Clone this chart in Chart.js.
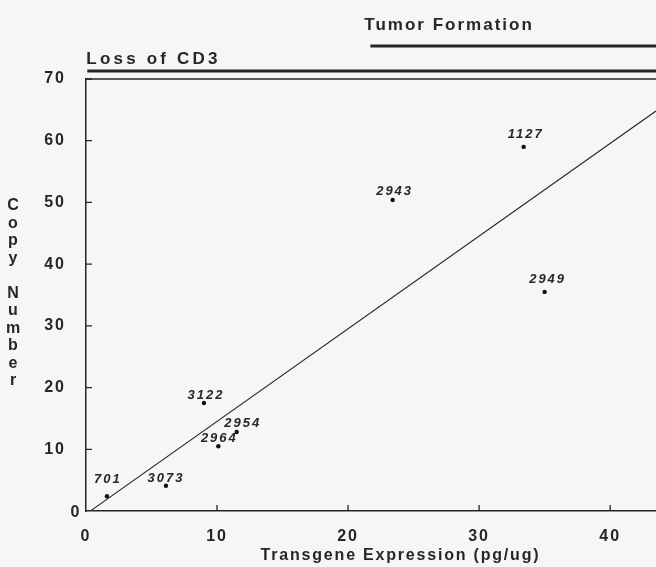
<!DOCTYPE html>
<html>
<head>
<meta charset="utf-8">
<script src="https://cdn.jsdelivr.net/npm/chart.js@4/dist/chart.umd.min.js"></script>
<style>
  html, body { margin: 0; padding: 0; background: #f6f6f6; }
  canvas { display: block; }
</style>
</head>
<body>
<canvas id="chart" width="656" height="567"></canvas>
<script>
// valores
const clones = ["701", "3073", "3122", "2964", "2954", "2943", "1127", "2949"];
const expression = [1.6, 6.1, 9.0, 10.1, 11.5, 23.4, 33.4, 35.0];
const copyNumber = [2.4, 4.1, 17.5, 10.5, 12.8, 50.4, 59.0, 35.5];

// recta de ajuste (extremos)
const fitX = [0.4, 43.5];
const fitY = [0.1, 64.8];

const xTicks = [0, 10, 20, 30, 40];
const yTicks = [0, 10, 20, 30, 40, 50, 60, 70];

// inicio de las barras superiores (en unidades del eje x)
const lossStart = 0.1;
const tumorStart = 21.7;

// pequeños desplazamientos de las etiquetas (px)
const nudge = {
  "701": [1, -13], "3073": [0, -4], "3122": [2, -4], "2964": [1, -4],
  "2954": [6, -5], "2943": [2, -5], "1127": [2, -9], "2949": [3, -9]
};

const INK = "#262626";
const FONT = '"Liberation Sans", Arial, sans-serif';

const decor = {
  id: "decor",
  beforeDraw(chart) {
    chart.ctx.letterSpacing = "2px";
  },
  afterDraw(chart) {
    const { ctx, chartArea: a, scales: { x, y } } = chart;
    const right = chart.width;
    ctx.save();
    ctx.strokeStyle = INK;
    ctx.fillStyle = INK;

    // marco superior
    ctx.lineWidth = 1.5;
    ctx.beginPath();
    ctx.moveTo(a.left, a.top);
    ctx.lineTo(right, a.top);
    ctx.stroke();

    // marcas hacia dentro
    ctx.lineWidth = 1.3;
    ctx.beginPath();
    yTicks.slice(1).forEach(v => {
      const py = y.getPixelForValue(v);
      ctx.moveTo(a.left, py);
      ctx.lineTo(a.left + 6, py);
    });
    xTicks.slice(1).forEach(v => {
      const px = x.getPixelForValue(v);
      ctx.moveTo(px, a.bottom);
      ctx.lineTo(px, a.bottom - 6);
    });
    ctx.stroke();

    // barras "Loss of CD3" / "Tumor Formation"
    ctx.lineWidth = 3;
    ctx.beginPath();
    ctx.moveTo(x.getPixelForValue(lossStart), a.top - 8);
    ctx.lineTo(right, a.top - 8);
    ctx.moveTo(x.getPixelForValue(tumorStart), a.top - 33);
    ctx.lineTo(right, a.top - 33);
    ctx.stroke();

    ctx.font = "bold 17px " + FONT;
    ctx.textAlign = "left";
    ctx.textBaseline = "alphabetic";
    ctx.letterSpacing = "3.2px";
    ctx.fillText("Loss of CD3", x.getPixelForValue(lossStart) - 1, a.top - 15);
    ctx.letterSpacing = "2px";
    ctx.fillText("Tumor Formation", x.getPixelForValue(tumorStart) - 6, a.top - 49);

    // "0" del eje y, algo desplazado como en el original
    ctx.font = "bold 16px " + FONT;
    ctx.textAlign = "center";
    ctx.textBaseline = "middle";
    ctx.letterSpacing = "0px";
    ctx.fillText("0", a.left - 11, y.getPixelForValue(0) + 2);

    // etiquetas de los puntos
    ctx.font = "italic bold 13px " + FONT;
    ctx.letterSpacing = "2px";
    ctx.textBaseline = "alphabetic";
    clones.forEach((name, i) => {
      const px = x.getPixelForValue(expression[i]);
      const py = y.getPixelForValue(copyNumber[i]);
      const [dx, dy] = nudge[name];
      ctx.fillText(name, px + dx, py + dy);
    });

    // título eje y, letra por letra
    ctx.font = "bold 16px " + FONT;
    ctx.letterSpacing = "0px";
    ctx.textBaseline = "middle";
    "Copy Number".split("").forEach((ch, i) => {
      ctx.fillText(ch, 13, 206 + i * 17.5);
    });

    // título eje x
    ctx.letterSpacing = "1.8px";
    ctx.textBaseline = "alphabetic";
    ctx.fillText("Transgene Expression (pg/ug)", x.getPixelForValue(24), 560);
    ctx.restore();
  }
};

new Chart(document.getElementById("chart"), {
  type: "scatter",
  data: {
    datasets: [
      {
        type: "line",
        data: fitX.map((v, i) => ({ x: v, y: fitY[i] })),
        borderColor: INK,
        borderWidth: 1.2,
        pointRadius: 0,
        fill: false,
      },
      {
        data: expression.map((v, i) => ({ x: v, y: copyNumber[i] })),
        backgroundColor: "#111",
        borderWidth: 0,
        pointRadius: 2.2,
      },
    ],
  },
  options: {
    responsive: false,
    animation: false,
    layout: { autoPadding: false, padding: { top: 79, left: 0, right: 0, bottom: 0 } },
    plugins: { legend: { display: false }, tooltip: { enabled: false } },
    scales: {
      x: {
        type: "linear",
        min: 0,
        max: 43.5,
        afterBuildTicks: s => { s.ticks = xTicks.map(v => ({ value: v })); },
        afterFit: s => { s.height = 56; },
        grid: { display: false, drawTicks: false },
        border: { display: true, color: INK, width: 1.5 },
        ticks: { color: INK, padding: 16, maxRotation: 0, font: { family: FONT, size: 16, weight: "bold" } },
      },
      y: {
        min: 0,
        max: 70,
        afterBuildTicks: s => { s.ticks = yTicks.map(v => ({ value: v })); },
        afterFit: s => { s.width = 86; },
        grid: { display: false, drawTicks: false },
        border: { display: true, color: INK, width: 1.5 },
        ticks: {
          color: INK,
          padding: 20,
          callback: v => (v === 0 ? "" : v),
          font: { family: FONT, size: 16, weight: "bold" },
        },
      },
    },
  },
  plugins: [decor],
});
</script>
</body>
</html>
